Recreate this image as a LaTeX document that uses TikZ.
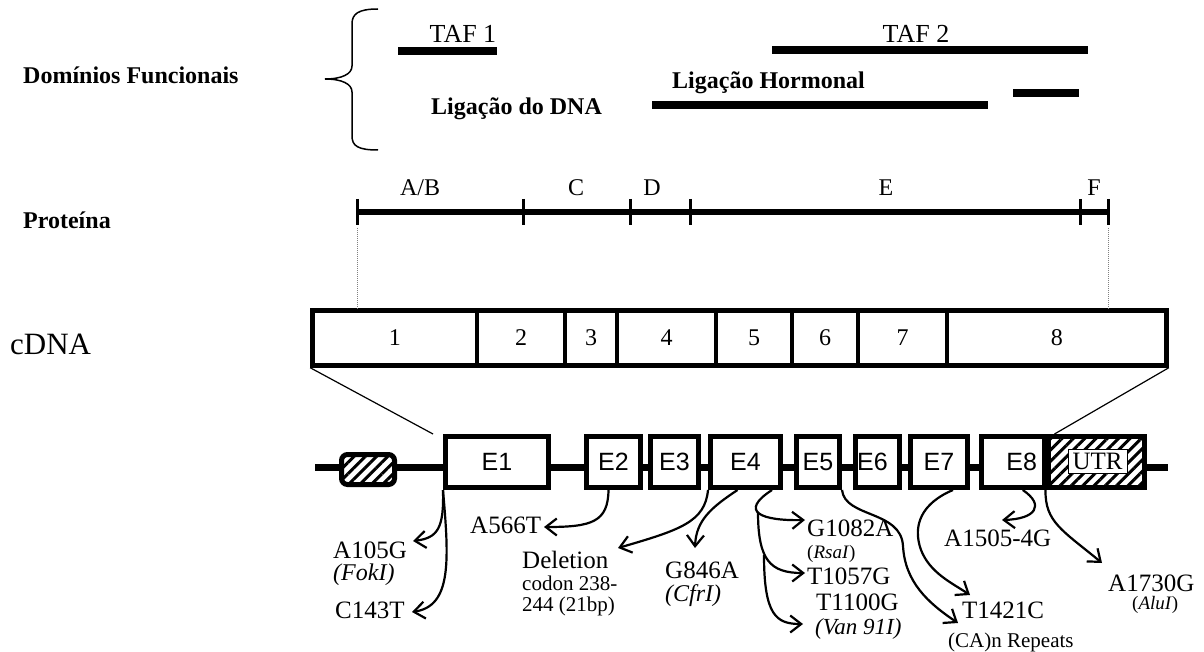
\documentclass[tikz,border=0pt]{standalone}
\usepackage{fontspec}
\setmainfont{Liberation Serif}
\newfontfamily\exfont{Liberation Sans}
\usetikzlibrary{arrows.meta,patterns.meta}
\begin{document}
\begin{tikzpicture}[x=1pt,y=-1pt,
  bold/.style={font=\fontsize{24}{27}\selectfont\bfseries, inner sep=0pt},
  taf/.style={font=\fontsize{26}{30}\selectfont, inner sep=0pt},
  dom/.style={font=\fontsize{24}{27}\selectfont, inner sep=0pt, anchor=base},
  bar/.style={line width=8pt},
  cseg/.style={draw, line width=4.5pt, minimum height=55pt, inner sep=0pt, font=\fontsize{24}{27}\selectfont},
  exon/.style={draw, fill=white, line width=5pt, minimum height=51pt, inner sep=0pt, font=\exfont\fontsize{25}{28}\selectfont},
  hatch/.style={draw, line width=5pt, inner sep=0pt, preaction={fill=white}, pattern={Lines[angle=45,distance=8pt,line width=3pt]}},
  mut/.style={font=\fontsize{25}{28}\selectfont, inner sep=0pt, anchor=base west},
  it/.style={font=\fontsize{24}{27}\selectfont\itshape},
  mutsm/.style={mut, font=\fontsize{21}{24}\selectfont},
  enz/.style={mut, font=\fontsize{19}{22}\selectfont},
  arr/.style={line width=2.2pt, -{Straight Barb[length=11pt,width=17pt]}},
  thinline/.style={line width=1.2pt},
  guide/.style={line width=1pt, gray, dash pattern=on 1pt off 1pt},
  tick/.style={line width=3pt}
]
\useasboundingbox (0,0) rectangle (1204,652);

% ---------- Functional domains ----------
\node[bold, anchor=base west] (dom) at (23,84) {Domínios Funcionais};
\draw[line width=1.5pt] (378,9) .. controls (358,9) and (352,14) .. (352,24) -- (352,66)
  .. controls (352,74) and (342,79) .. (325,79)
  .. controls (342,79) and (352,84) .. (352,92) -- (352,136)
  .. controls (352,146) and (358,150) .. (378,150);
\node[taf, anchor=base] (taf1) at (463,43) {TAF 1};
\draw[bar] (398,51) -- (497,51);
\node[taf, anchor=base] (taf2) at (916,43) {TAF 2};
\draw[bar] (772,50) -- (1088,50);
\node[bold, anchor=base west] (lh) at (672,89) {Ligação Hormonal};
\draw[bar] (652,105) -- (988,105);
\draw[bar] (1013,93) -- (1079,93);
\node[bold, anchor=base west] (ldna) at (431,115) {Ligação do DNA};

% ---------- Protein ----------
\node[bold, anchor=base west] (prot) at (23,229) {Proteína};
\coordinate (pa) at (357,212);
\coordinate (pb) at (523,212);
\coordinate (pc) at (630,212);
\coordinate (pd) at (690,212);
\coordinate (pe) at (1080,212);
\coordinate (pf) at (1108,212);
\draw[line width=6pt] (pa) -- (pf);
\foreach \p in {pa,pb,pc,pd,pe,pf}
  \draw[tick] ([yshift=13pt]\p) -- ([yshift=-13pt]\p);
\node[dom] (dab) at (420,196) {A/B};
\node[dom] (dc) at (576,196) {C};
\node[dom] (dd) at (652,196) {D};
\node[dom] (de) at (886,196) {E};
\node[dom] (df) at (1094,196) {F};

% ---------- cDNA ----------
\node[font=\fontsize{31}{34}\selectfont, inner sep=0pt, anchor=base west] (cdna) at (10,354) {cDNA};
\node[cseg, minimum width=164.5pt] (c1) at (394.75,338) {1};
\node[cseg, minimum width=88pt] (c2) at (521,338) {2};
\node[cseg, minimum width=52pt] (c3) at (591,338) {3};
\node[cseg, minimum width=99pt] (c4) at (666.5,338) {4};
\node[cseg, minimum width=76pt] (c5) at (754,338) {5};
\node[cseg, minimum width=66pt] (c6) at (825,338) {6};
\node[cseg, minimum width=89pt] (c7) at (902.5,338) {7};
\node[cseg, minimum width=219.5pt] (c8) at (1056.75,338) {8};
\draw[guide] ([yshift=-16pt]pa) -- (pa |- c1.north);
\draw[guide] ([yshift=-16pt]pf) -- (pf |- c8.north);

% ---------- Gene ----------
\coordinate (gl) at (315,467);
\coordinate (gr) at (1168,467);
\draw[line width=7pt] (gl) -- (gr);
\node[hatch, rounded corners=6pt, minimum width=53pt, minimum height=30pt] (pr) at (368,469.5) {};
\node[exon, minimum width=103pt] (e1) at (497,462) {E1};
\node[exon, minimum width=54pt] (e2) at (613.5,462) {E2};
\node[exon, minimum width=48pt] (e3) at (674.5,462) {E3};
\node[exon, minimum width=70pt] (e4) at (745.5,462) {E4};
\node[exon, minimum width=43pt] (e5) at (818,462) {E5};
\node[exon, minimum width=44pt] (e6) at (877.5,462) {E6\hspace*{10pt}};
\node[exon, minimum width=57pt] (e7) at (939,462) {E7};
\node[exon, minimum width=62.5pt] (e8) at (1012.75,462) {\hspace*{18pt}E8};
\node[hatch, minimum width=96.5pt, minimum height=51pt] (utr) at (1096.25,462) {};
\node[draw, fill=white, line width=1pt, minimum width=59pt, minimum height=24pt, inner sep=0pt,
      font=\fontsize{25}{28}\selectfont] (utrl) at (1097.5,461) {UTR};

\draw[thinline] (c1.south west) -- ([xshift=-10pt]e1.north west);
\draw[thinline] (c8.south east) -- ([xshift=9pt]utr.north west);

% ---------- Mutation labels ----------
\node[mut] (a105) at (333,558) {A105G};
\node[mut, it] (fok) at (333,580) {(FokI)};
\node[mut] (c143) at (335,618) {C143T};
\node[mut] (a566) at (470,533) {A566T};
\node[mut] (del) at (522,568) {Deletion};
\node[mutsm] (cod) at (522,590) {codon 238-};
\node[mutsm] (bp) at (522,611) {244 (21bp)};
\node[mut] (g846) at (665,578) {G846A};
\node[mut, it] (cfr) at (665,601) {(CfrI)};
\node[mut] (g1082) at (807,536) {G1082A};
\node[enz] (rsa) at (807,558) {(\textit{RsaI})};
\node[mut] (t1057) at (807,584) {T1057G};
\node[mut] (t1100) at (816,610) {T1100G};
\node[mut, it, font=\fontsize{23}{26}\selectfont\itshape] (van) at (815,634) {(Van 91I)};
\node[mut] (a1505) at (944,546) {A1505-4G};
\node[mut] (t1421) at (962,618) {T1421C};
\node[mutsm] (ca) at (948,647) {(CA)n Repeats};
\node[mut] (a1730) at (1108,591) {A1730G};
\node[enz] (alu) at (1132,609) {(\textit{AluI})};

% ---------- Arrows ----------
\draw[arr] (e1.south west) .. controls (444,528) and (438,538) .. ([xshift=80pt,yshift=17pt]a105.base west);
\draw[arr] (e1.south west) .. controls (449,560) and (452,606) .. ([xshift=77pt,yshift=6pt]c143.base west);
\draw[arr] ([xshift=-5pt]e2.south) .. controls (608,522) and (592,527) .. ([xshift=74pt,yshift=6pt]a566.base west);
\draw[arr] (e4.south west) .. controls (705,522) and (680,530) .. ([xshift=96pt,yshift=20pt]del.base west);
\draw[arr] ([xshift=-8pt]e4.south) .. controls (712,507) and (696,520) .. ([xshift=30pt,yshift=30pt]g846.base west);
\draw[arr] ([xshift=-11pt]e4.south east) .. controls (738,512) and (762,521) .. ([xshift=-2pt,yshift=16pt]g1082.base west);
\coordinate (br1) at (758,512);
\draw[arr] (br1) .. controls (758,560) and (770,573) .. ([xshift=-2pt,yshift=11pt]t1057.base west);
\coordinate (br2) at (764,555);
\draw[arr] (br2) .. controls (764,615) and (776,624) .. ([xshift=-12pt,yshift=10pt]van.base west);
\draw[arr] (e5.south east) .. controls (845,518) and (901,510) .. (903,546)
  .. controls (905,582) and (928,603) .. ([xshift=10pt,yshift=24pt]ca.base west);
\draw[arr] ([xshift=14pt]e7.south) .. controls (922,503) and (912,525) .. (921,550)
  .. controls (930,573) and (952,583) .. ([xshift=8pt,yshift=23pt]t1421.base west);
\draw[arr] ([xshift=10pt]e8.south) .. controls (1045,505) and (1036,519) .. ([xshift=58pt,yshift=26pt]a1505.base west);
\draw[arr] (utr.south west) .. controls (1045,522) and (1062,530) .. ([xshift=-6pt,yshift=28pt]a1730.base west);
\end{tikzpicture}
\end{document}
